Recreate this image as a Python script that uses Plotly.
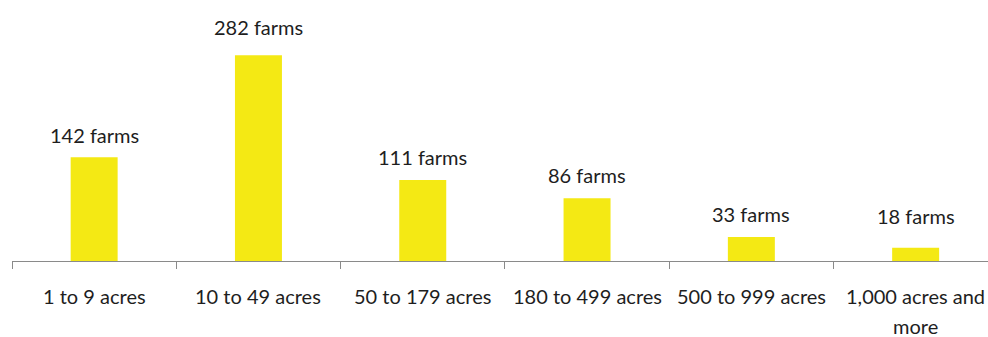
import plotly.graph_objects as go

# Farm counts by farm size
categories = ["1 to 9 acres", "10 to 49 acres", "50 to 179 acres",
              "180 to 499 acres", "500 to 999 acres", "1,000 acres and\nmore"]
farms = [142, 282, 111, 86, 33, 18]
value_labels = [f"{v} farms" for v in farms]

# styling
BAR_COLOR = "#F4E914"
TEXT_COLOR = "#1e1e1e"
AXIS_COLOR = "#8a8a8a"
FONT = "Lato"
FONT_SIZE = 20
label_lift = [22, 28, 23, 23, 23, 32]   # px gap between bar top and value label centre

W, H = 988, 337
M_L, M_B = 12, 76
PX_PER_FARM = 0.73
CAT_PX = 164.3

x = list(range(len(categories)))
# tick marks sit between categories
boundaries = [i - 0.5 for i in x]

fig = go.Figure(go.Bar(
    x=x, y=farms, width=0.286,
    marker=dict(color=BAR_COLOR, line=dict(width=0)),
    hoverinfo="skip",
))

annotations = []
for xi, v, lbl, lift in zip(x, farms, value_labels, label_lift):
    annotations.append(dict(
        x=xi, y=v, xref="x", yref="y", text=lbl, showarrow=False,
        yanchor="middle", yshift=lift,
        font=dict(family=FONT, size=FONT_SIZE, color=TEXT_COLOR),
    ))
for xi, cat in zip(x, categories):
    for j, line in enumerate(cat.split("\n")):
        annotations.append(dict(
            x=xi, y=0, xref="x", yref="paper", text=line, showarrow=False,
            yanchor="middle", yshift=-35 - 30 * j,
            font=dict(family=FONT, size=FONT_SIZE, color=TEXT_COLOR),
        ))

plot_w = W - M_L
plot_h = H - M_B
fig.update_layout(
    width=W, height=H,
    margin=dict(l=M_L, r=0, t=0, b=M_B, pad=0),
    paper_bgcolor="white", plot_bgcolor="white",
    showlegend=False,
    annotations=annotations,
    xaxis=dict(
        range=[-0.5, -0.5 + plot_w / CAT_PX],
        tickmode="array", tickvals=boundaries, showticklabels=False,
        ticks="outside", ticklen=7, tickwidth=1, tickcolor=AXIS_COLOR,
        showline=True, linecolor=AXIS_COLOR, linewidth=1,
        showgrid=False, zeroline=False, fixedrange=True,
    ),
    yaxis=dict(
        range=[0, plot_h / PX_PER_FARM],
        visible=False, showgrid=False, zeroline=False, fixedrange=True,
    ),
)

fig.write_html("out.html", config={"displayModeBar": False})
